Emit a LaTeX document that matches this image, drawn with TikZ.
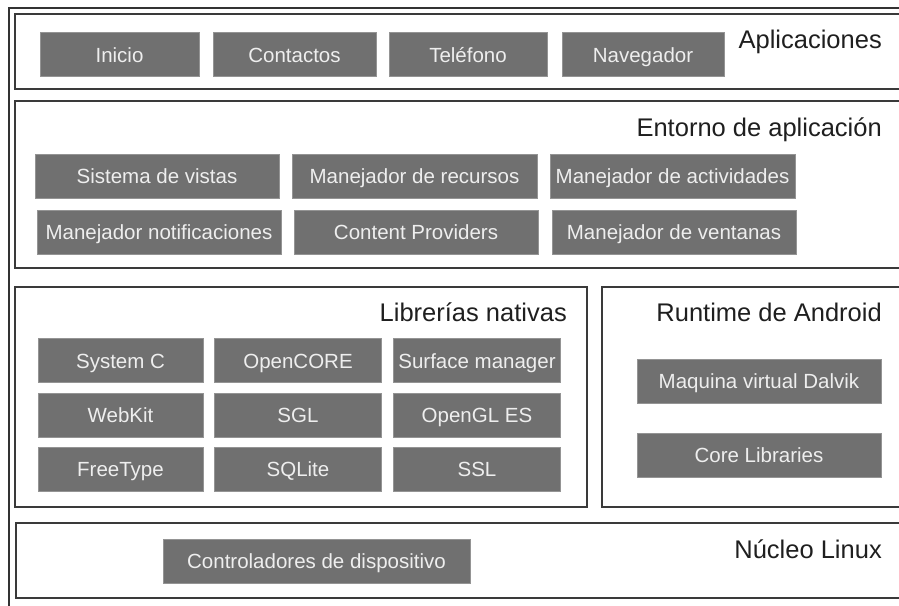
\documentclass[tikz,border=0pt]{standalone}
\usepackage{fontspec}
\setmainfont{Liberation Sans}
\definecolor{gris}{RGB}{112,112,112}
\definecolor{borde}{RGB}{58,58,58}
\definecolor{texto}{RGB}{238,238,238}
\tikzset{
  capa/.style={draw=borde, line width=1.8pt},
  bloque/.style={fill=gris, draw=gris!75!white, line width=0.6pt, text=texto,
    minimum height=44pt, inner sep=0pt, text height=15pt, text depth=0pt,
    font=\fontsize{20.5}{24}\selectfont},
  titulo/.style={anchor=base east, inner sep=0pt, text=black!88,
    font=\fontsize{25.5}{30}\selectfont}
}

\begin{document}
\begin{tikzpicture}[x=1pt,y=-1pt]
\useasboundingbox (0,0) rectangle (899,605);
\clip (0,0) rectangle (899,605);
\fill [white] (0,0) rectangle (899,605);
\draw [black!80, line width=1.3pt] (9,8) rectangle (920,620);

% capas
\draw [capa] (15,14) rectangle (915,89);
\draw [capa] (15,101) rectangle (915,268);
\draw [capa] (15,287) rectangle (587,507);
\draw [capa] (602,287) rectangle (915,507);
\draw [capa] (16,523) rectangle (915,598);

% aplicaciones
\node [bloque, minimum width=159pt] (inicio) at (119.5,54.5) {Inicio};
\node [bloque, minimum width=163pt] (contactos) at (294.5,54.5) {Contactos};
\node [bloque, minimum width=158pt] (telefono) at (468,54.5) {Teléfono};
\node [bloque, minimum width=162pt] (navegador) at (643,54.5) {Navegador};
\node [titulo] (tapp) at (882,48) {Aplicaciones};

% entorno de aplicacion
\node [titulo] (tentorno) at (882,136) {Entorno de aplicación};
\node [bloque, minimum width=244pt] (vistas) at (157,176) {Sistema de vistas};
\node [bloque, minimum width=245pt] (recursos) at (414.5,176) {Manejador de recursos};
\node [bloque, minimum width=245pt] (actividades) at (672.5,176) {Manejador de actividades};
\node [bloque, minimum width=244pt] (notificaciones) at (159,232) {Manejador notificaciones};
\node [bloque, minimum width=244pt] (providers) at (416,232) {Content Providers};
\node [bloque, minimum width=244pt] (ventanas) at (674,232) {Manejador de ventanas};

% librerias nativas
\node [titulo] (tlibrerias) at (567,321) {Librerías nativas};
\node [bloque, minimum width=165pt] (systemc) at (120.5,360.5) {System C};
\node [bloque, minimum width=167pt] (opencore) at (298,360.5) {OpenCORE};
\node [bloque, minimum width=167pt] (surface) at (477,360.5) {Surface manager};
\node [bloque, minimum width=165pt] (webkit) at (120.5,415) {WebKit};
\node [bloque, minimum width=167pt] (sgl) at (298,415) {SGL};
\node [bloque, minimum width=167pt] (opengl) at (477,415) {OpenGL ES};
\node [bloque, minimum width=165pt] (freetype) at (120.5,469) {FreeType};
\node [bloque, minimum width=167pt] (sqlite) at (298,469) {SQLite};
\node [bloque, minimum width=167pt] (ssl) at (477,469) {SSL};

% runtime
\node [titulo] (truntime) at (882,321) {Runtime de Android};
\node [bloque, minimum width=244pt] (dalvik) at (759,381) {Maquina virtual Dalvik};
\node [bloque, minimum width=244pt] (core) at (759,455) {Core Libraries};

% nucleo
\node [titulo] (tnucleo) at (882,558) {Núcleo Linux};
\node [bloque, minimum width=307pt] (controladores) at (316.5,561) {Controladores de dispositivo};

\end{tikzpicture}
\end{document}
